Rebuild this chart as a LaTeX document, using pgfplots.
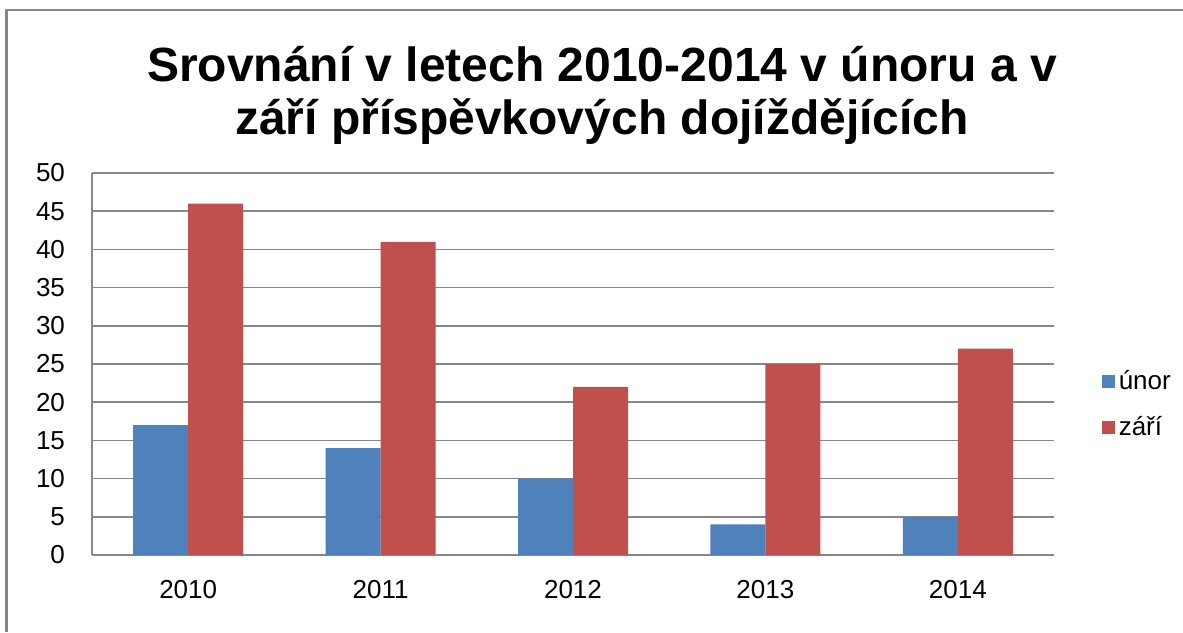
\documentclass[border=0pt]{standalone}
\usepackage{fontspec}
\setmainfont{Liberation Sans}
\usepackage{pgfplots}
\pgfplotsset{compat=1.18}
\definecolor{unorblue}{HTML}{4F81BD}
\definecolor{zarired}{HTML}{C0504D}
\definecolor{gridgray}{HTML}{878787}
\begin{document}
\begin{tikzpicture}
\useasboundingbox[fill=white] (0pt,0pt) rectangle (591.5pt,316pt);
\draw[gridgray,line width=1.2pt] (3.2pt,0pt) -- (3.2pt,311pt) -- (591.5pt,311pt);
\node[font=\fontsize{24}{26.5}\selectfont\bfseries,align=center] at (301pt,268.5pt)
  {Srovnání v letech 2010-2014 v únoru a v\\září příspěvkových dojíždějících};
\begin{axis}[
  at={(46pt,38.5pt)}, anchor=south west,
  scale only axis,
  width=481pt, height=191pt,
  ybar=0pt, bar width=27.5pt,
  xmin=-0.5, xmax=4.5,
  ymin=0, ymax=50,
  ytick={0,5,...,50},
  xtick={0,1,2,3,4},
  xticklabels={2010,2011,2012,2013,2014},
  axis x line*=bottom, axis y line*=left,
  axis line style={gridgray,line width=0.8pt},
  ymajorgrids, grid style={gridgray,line width=0.8pt},
  major tick length=0pt,
  tick label style={font=\fontsize{13}{15}\selectfont},
  /pgf/number format/assume math mode=true,
  yticklabel style={xshift=-10pt},
  xticklabel style={yshift=-9pt},
  legend style={at={(1.043,0.505)}, anchor=north west, draw=none, fill=none,
    font=\fontsize{13}{15}\selectfont, row sep=8pt,
    /tikz/every odd column/.append style={column sep=0pt}},
  legend cell align=left,
  legend image code/.code={\fill[#1] (0pt,-3.25pt) rectangle (6.5pt,3.25pt);},
]
\addplot[fill=unorblue, draw=none] coordinates {(0,17) (1,14) (2,10) (3,4) (4,5)};
\addplot[fill=zarired, draw=none] coordinates {(0,46) (1,41) (2,22) (3,25) (4,27)};
\legend{únor,září}
\end{axis}
\end{tikzpicture}
\end{document}
